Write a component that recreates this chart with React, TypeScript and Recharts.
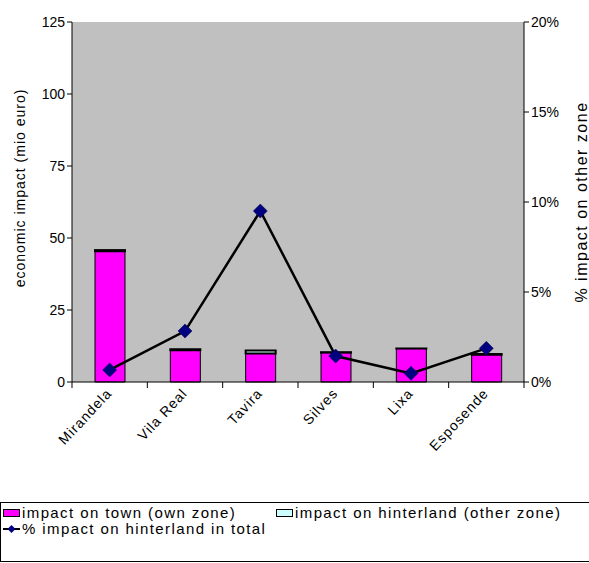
import React from "react";
import { ComposedChart, Bar, Line, XAxis, YAxis, CartesianGrid } from "recharts";

const towns = ["Mirandela", "Vila Real", "Tavira", "Silves", "Lixa", "Esposende"];
const ownZone = [45.4, 11.0, 9.9, 10.2, 11.6, 9.5];
const otherZone = [0.4, 0.35, 1.05, 0.15, 0.06, 0.18];
const pctHinterland = [0.0067, 0.0283, 0.095, 0.0144, 0.0048, 0.0187];
const leftTicks = [0, 25, 50, 75, 100, 125];
const rightTicks = [0, 0.05, 0.1, 0.15, 0.2];

const data = towns.map((name, i) => ({
  name,
  own: ownZone[i],
  other: otherZone[i],
  pct: pctHinterland[i],
}));

const FONT = "'Liberation Sans', Arial, sans-serif";
const W = 589;
const H = 563;
const M = { top: 22, right: 15, bottom: 81, left: 22 };
const AXIS_W = 50;
const BAND = (W - M.left - M.right - 2 * AXIS_W) / towns.length;

const Diamond = (props: any) => {
  const { cx, cy } = props;
  if (cx == null || cy == null) return null;
  const r = 7;
  return (
    <path
      d={`M${cx},${cy - r}L${cx + r},${cy}L${cx},${cy + r}L${cx - r},${cy}Z`}
      fill="#000080"
      stroke="#000040"
      strokeWidth={0.5}
    />
  );
};

// category label rotated 45deg, plus Excel-style tick marks between categories
const TownTick = (props: any) => {
  const { x, y, payload, index } = props;
  const top = y - 8;
  return (
    <g>
      <line x1={x - BAND / 2} x2={x - BAND / 2} y1={top} y2={top + 6} stroke="#000" />
      {index === towns.length - 1 && (
        <line x1={x + BAND / 2} x2={x + BAND / 2} y1={top} y2={top + 6} stroke="#000" />
      )}
      <text
        x={x + 3}
        y={y + 4}
        transform={`rotate(-47 ${x + 3} ${y + 4})`}
        textAnchor="end"
        fontSize={14}
        letterSpacing={1}
        fontFamily={FONT}
        fill="#000"
      >
        {payload.value}
      </text>
    </g>
  );
};

const Swatch = ({ fill }: { fill: string }) => (
  <svg width={17} height={8} style={{ marginRight: 2 }}>
    <rect x={0.5} y={0.5} width={16} height={7} fill={fill} stroke="#000" />
  </svg>
);

export default function App() {
  return (
    <div style={{ position: "absolute", left: 0, top: 0, width: W, height: H, background: "#fff", overflow: "hidden" }}>
      <ComposedChart width={W} height={H} data={data} margin={M} barSize={30}>
        <CartesianGrid fill="#C0C0C0" horizontal={false} vertical={false} yAxisId="left" />
        <XAxis
          dataKey="name"
          height={100}
          interval={0}
          tickLine={false}
          stroke="#000"
          tick={<TownTick />}
        />
        <YAxis
          yAxisId="left"
          width={AXIS_W}
          domain={[0, 125]}
          ticks={leftTicks}
          stroke="#000"
          tickSize={5}
          tick={{ fill: "#000", fontSize: 14, fontFamily: FONT }}
          label={{
            value: "economic impact (mio euro)",
            angle: -90,
            position: "center",
            dx: -27,
            dy: -14,
            style: { fill: "#000", fontSize: 14, letterSpacing: 1, fontFamily: FONT },
          }}
        />
        <YAxis
          yAxisId="right"
          orientation="right"
          width={AXIS_W}
          domain={[0, 0.2]}
          ticks={rightTicks}
          stroke="#000"
          tickSize={5}
          tickFormatter={(v: number) => `${Math.round(v * 100)}%`}
          tick={{ fill: "#000", fontSize: 14, fontFamily: FONT }}
          label={{
            value: "% impact on other zone",
            angle: -90,
            position: "center",
            dx: 32,
            style: { fill: "#000", fontSize: 16, letterSpacing: 1.5, fontFamily: FONT },
          }}
        />
        <Bar yAxisId="left" dataKey="own" stackId="a" fill="#FF00FF" stroke="#000" strokeWidth={1} isAnimationActive={false} />
        <Bar yAxisId="left" dataKey="other" stackId="a" fill="#CCFFFF" stroke="#000" strokeWidth={2} isAnimationActive={false} />
        <Line
          yAxisId="right"
          dataKey="pct"
          stroke="#000"
          strokeWidth={2.5}
          dot={<Diamond />}
          activeDot={false}
          isAnimationActive={false}
        />
      </ComposedChart>
      <div
        style={{
          position: "absolute",
          left: 0,
          top: 502,
          width: 600,
          height: 60,
          border: "1px solid #000",
          boxSizing: "border-box",
          fontFamily: FONT,
          fontSize: 15,
          letterSpacing: 1.4,
          color: "#000",
          padding: "2px 0 0 2px",
          lineHeight: "16px",
          whiteSpace: "nowrap",
        }}
      >
        <div style={{ display: "flex", alignItems: "center" }}>
          <div style={{ width: 273, display: "flex", alignItems: "center" }}>
            <Swatch fill="#FF00FF" />
            <span>impact on town (own zone)</span>
          </div>
          <div style={{ display: "flex", alignItems: "center" }}>
            <Swatch fill="#CCFFFF" />
            <span>impact on hinterland (other zone)</span>
          </div>
        </div>
        <div style={{ display: "flex", alignItems: "center" }}>
          <svg width={17} height={10} style={{ marginRight: 2 }}>
            <line x1={0} x2={17} y1={5} y2={5} stroke="#000" strokeWidth={2} />
            <path d="M8.5,1L12.5,5L8.5,9L4.5,5Z" fill="#000080" />
          </svg>
          <span>% impact on hinterland in total</span>
        </div>
      </div>
    </div>
  );
}
